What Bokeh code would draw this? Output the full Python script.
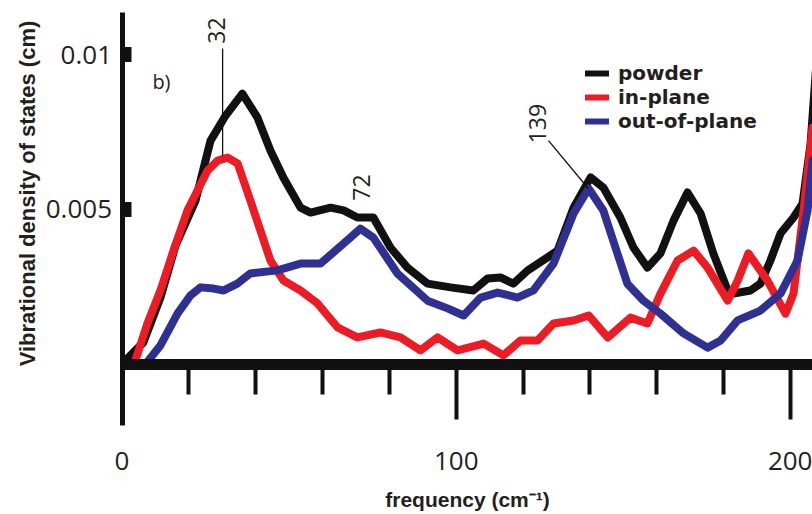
import math
from bokeh.plotting import figure
from bokeh.models import (LinearAxis, FixedTicker, Range1d, Legend, LegendItem,
                          Label, ColumnDataSource)
from bokeh.embed import file_html
from bokeh.resources import INLINE
from bokeh.core.properties import value

# ---------------- data ----------------
powder_x = [1.0, 6.4, 11.5, 16.0, 22.0, 26.5, 31.0, 36.0, 40.5, 44.4, 48.3, 53.4, 56.4,
            62.4, 66.3, 70.4, 75.2, 80.3, 85.4, 91.4, 98.3, 105.1, 109.4, 113.2, 117.1,
            121.3, 127.3, 130.3, 135.1, 140.2, 144.0, 149.1, 153.0, 157.2, 161.1, 165.0,
            169.2, 173.1, 176.9, 181.2, 183.0, 188.0, 191.0, 194.0, 197.0, 200.9, 203.6,
            206.0, 207.8]
powder_y = [0.00011, 0.00070, 0.00215, 0.00383, 0.00529, 0.00723, 0.00804, 0.00875,
            0.00798, 0.00691, 0.00603, 0.00506, 0.00490, 0.00506, 0.00497, 0.00474,
            0.00474, 0.00377, 0.00312, 0.00260, 0.00248, 0.00238, 0.00277, 0.00280,
            0.00260, 0.00302, 0.00345, 0.00367, 0.00506, 0.00604, 0.00571, 0.00474,
            0.00377, 0.00312, 0.00358, 0.00464, 0.00555, 0.00487, 0.00358, 0.00238,
            0.00228, 0.00238, 0.00260, 0.00335, 0.00422, 0.00474, 0.00519, 0.00713,
            0.00982]

inplane_x = [4.0, 7.6, 11.5, 15.4, 19.6, 25.6, 28.6, 31.6, 34.6, 38.4, 41.4, 44.4, 48.3,
             53.4, 58.5, 64.5, 70.4, 77.3, 83.3, 89.3, 94.4, 100.4, 108.2, 114.1, 119.2,
             124.3, 129.1, 135.1, 139.6, 145.3, 152.1, 157.2, 161.1, 166.2, 171.0, 175.2,
             181.2, 184.2, 187.4, 193.1, 198.5, 200.9, 203.9, 206.6]
inplane_y = [0.00011, 0.00131, 0.00238, 0.00367, 0.00497, 0.00626, 0.00658, 0.00668,
             0.00649, 0.00529, 0.00432, 0.00335, 0.00270, 0.00238, 0.00196, 0.00118,
             0.00086, 0.00102, 0.00086, 0.00044, 0.00086, 0.00044, 0.00066, 0.00028,
             0.00076, 0.00076, 0.00131, 0.00141, 0.00157, 0.00086, 0.00150, 0.00131,
             0.00228, 0.00335, 0.00367, 0.00312, 0.00205, 0.00270, 0.00358, 0.00270,
             0.00163, 0.00228, 0.00497, 0.00765]

outplane_x = [7.9, 11.5, 16.6, 20.5, 23.5, 27.4, 30.4, 34.5, 38.4, 46.5, 53.4, 59.4, 66.3,
              71.3, 75.2, 82.4, 91.4, 97.4, 102.2, 107.3, 112.4, 118.3, 123.1, 129.1,
              135.1, 139.6, 144.0, 148.2, 151.2, 156.0, 161.1, 168.0, 175.2, 179.1, 184.2,
              191.0, 197.0, 202.1, 205.1, 206.6]
outplane_y = [0.00011, 0.00060, 0.00163, 0.00222, 0.00248, 0.00244, 0.00238, 0.00260,
              0.00293, 0.00303, 0.00325, 0.00325, 0.00390, 0.00438, 0.00409, 0.00293,
              0.00205, 0.00180, 0.00157, 0.00215, 0.00231, 0.00215, 0.00238, 0.00325,
              0.00487, 0.00568, 0.00497, 0.00358, 0.00260, 0.00205, 0.00163, 0.00099,
              0.00053, 0.00076, 0.00141, 0.00173, 0.00228, 0.00335, 0.00497, 0.00659]

series_names = ["powder", "in-plane", "out-of-plane"]

x_major_ticks = [0, 100, 200]
x_minor_ticks = [20, 40, 60, 80, 120, 140, 160, 180]
y_ticks = [0.005, 0.01]
y_tick_labels = ["0.005", "0.01"]

peak_labels = ["32", "72", "139"]
peak_label_x = [28.3, 71.6, 124.3]
peak_label_y = [0.01079, 0.00571, 0.00778]
leader_x0 = [30.1, 127.6]
leader_y0 = [0.01021, 0.00723]
leader_x1 = [30.1, 139.5]
leader_y1 = [0.00675, 0.00568]

# ---------------- figure ----------------
BLACK = "#111111"
RED = "#ed1c24"
BLUE = "#2e3192"
TXT = "#231f20"

W, H = 812, 514
p = figure(width=W, height=H, output_backend="svg", toolbar_location=None,
           x_axis_type=None, y_axis_type=None,
           x_range=Range1d(-36.35, 206.58), y_range=Range1d(-0.00487, 0.011763),
           min_border=0, min_border_left=0, min_border_right=0,
           min_border_top=0, min_border_bottom=0)
p.outline_line_color = None
p.grid.visible = False
p.background_fill_color = "white"
p.border_fill_color = "white"

p.line(powder_x, powder_y, line_color=BLACK, line_width=8, line_join="round", line_cap="round")
p.line(inplane_x, inplane_y, line_color=RED, line_width=8, line_join="round", line_cap="round")
p.line(outplane_x, outplane_y, line_color=BLUE, line_width=8, line_join="round", line_cap="round")

# axes
xaxis = LinearAxis(fixed_location=0, bounds=(0, 206.58),
                   ticker=FixedTicker(ticks=x_major_ticks, minor_ticks=x_minor_ticks),
                   axis_line_width=11, axis_line_color=BLACK,
                   major_tick_in=0, major_tick_out=55, major_tick_line_width=4,
                   major_tick_line_color=BLACK,
                   minor_tick_in=0, minor_tick_out=30, minor_tick_line_width=4,
                   minor_tick_line_color=BLACK,
                   major_label_text_font="Open Sans",
                   major_label_text_font_size="26px",
                   major_label_text_color=TXT,
                   major_label_standoff=33,
                   axis_label="frequency (cm⁻¹)",
                   axis_label_text_font="Liberation Sans",
                   axis_label_text_font_style="bold",
                   axis_label_text_font_size="21px",
                   axis_label_text_color=TXT,
                   axis_label_standoff=14)
p.add_layout(xaxis, "below")

yaxis = LinearAxis(fixed_location=0, bounds=(-0.00199, 0.011375),
                   ticker=FixedTicker(ticks=y_ticks, minor_ticks=[]),
                   major_label_overrides=dict(zip(y_ticks, y_tick_labels)),
                   axis_line_width=5, axis_line_color=BLACK,
                   major_tick_in=9, major_tick_out=0, major_tick_line_width=15,
                   major_tick_line_color=BLACK,
                   minor_tick_in=0, minor_tick_out=0,
                   major_label_text_font="Open Sans",
                   major_label_text_font_size="26px",
                   major_label_text_color=TXT,
                   major_label_standoff=10)
p.add_layout(yaxis, "left")

p.add_layout(Label(x=-28.27, y=0.005517, text="Vibrational density of states (cm)",
                   angle=math.pi / 2, text_align="center", text_baseline="middle",
                   text_font="Liberation Sans", text_font_style="bold",
                   text_font_size="22px", text_color=TXT))

p.add_layout(Label(x=11.8, y=0.00914, text="b)", text_align="center",
                   text_baseline="middle", text_font="Open Sans",
                   text_font_size="20px", text_color=TXT))

# peak annotations
p.segment(x0=leader_x0, y0=leader_y0, x1=leader_x1, y1=leader_y1,
          line_color=BLACK, line_width=1.3)
src = ColumnDataSource(dict(x=peak_label_x, y=peak_label_y, t=peak_labels))
p.text(x="x", y="y", text="t", source=src, angle=math.pi / 2,
       text_align="center", text_baseline="middle",
       text_font=value("Open Sans"), text_font_size="23px", text_color=TXT)

# legend (dedicated legend glyphs); location = bottom-left of legend box, screen px
lg = []
for c in (BLACK, RED, BLUE):
    lg.append(p.line([float("nan")], [float("nan")], line_color=c, line_width=6,
                     line_cap="round"))
legend = Legend(items=[LegendItem(label=n, renderers=[r]) for n, r in zip(series_names, lg)],
                location=(585, 380.7), orientation="vertical",
                glyph_width=24, glyph_height=20, label_height=20, label_standoff=9,
                spacing=0, padding=0, margin=0,
                border_line_color=None, background_fill_alpha=0,
                label_text_font="DejaVu Sans", label_text_font_style="bold",
                label_text_font_size="20px", label_text_color=TXT)
p.add_layout(legend)

open("out.html", "w").write(file_html(p, INLINE))
